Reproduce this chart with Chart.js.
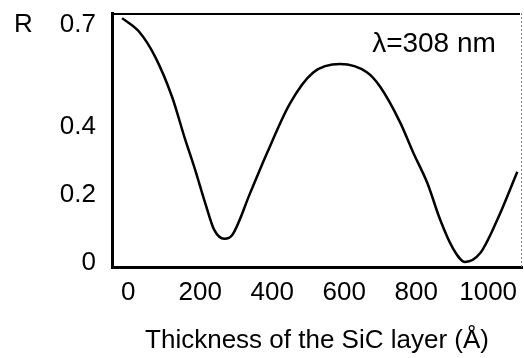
<!DOCTYPE html>
<html>
<head>
<meta charset="utf-8">
<script src="https://cdn.jsdelivr.net/npm/chart.js@4"></script>
<style>
  html, body { margin: 0; padding: 0; background: #fff; }
  #wrap { width: 524px; height: 358px; }
</style>
</head>
<body>
<div id="wrap"><canvas id="lineChart"></canvas></div>
<script>
// thickness of SiC layer (Å) and reflectivity R
const thickness = [-17, 31, 75, 122, 156, 186, 214, 239, 267, 289, 339, 386, 450, 514, 589, 664, 700, 756, 792, 831, 867, 900, 936, 978, 1025, 1081];
const reflectivity = [0.72, 0.679, 0.606, 0.488, 0.371, 0.274, 0.176, 0.097, 0.071, 0.082, 0.206, 0.324, 0.47, 0.56, 0.585, 0.56, 0.518, 0.412, 0.324, 0.235, 0.126, 0.047, 0.003, 0.029, 0.126, 0.268];
const xTicks = [0, 200, 400, 600, 800, 1000];
const yTicks = [0, 0.2, 0.4, 0.7];
const waveLabel = "λ=308 nm";

const FONT = "'Liberation Sans', Arial, sans-serif";

const framePlugin = {
  id: "frame",
  afterDraw(chart) {
    const { ctx } = chart;
    const yS = chart.scales.y, xS = chart.scales.x;
    const top = Math.round(yS.top), bottom = yS.bottom;
    const left = xS.left, right = xS.right;
    ctx.save();
    // top edge
    ctx.strokeStyle = "#000";
    ctx.lineWidth = 2;
    ctx.beginPath();
    ctx.moveTo(left - 1, top + 1);
    ctx.lineTo(right - 2, top + 1);
    ctx.stroke();
    // faint right edge
    ctx.strokeStyle = "#888";
    ctx.lineWidth = 1;
    ctx.setLineDash([2, 2]);
    ctx.beginPath();
    ctx.moveTo(right - 0.5, top);
    ctx.lineTo(right - 0.5, bottom);
    ctx.stroke();
    ctx.setLineDash([]);
    // texts
    ctx.fillStyle = "#000";
    ctx.textBaseline = "middle";
    ctx.textAlign = "left";
    ctx.font = "26px " + FONT;
    ctx.fillText("R", 14, 25);
    ctx.textAlign = "center";
    ctx.font = "28px " + FONT;
    ctx.fillText(waveLabel, 434, 44);
    ctx.restore();
  },
};

new Chart(document.getElementById("lineChart").getContext("2d"), {
  type: "line",
  data: {
    datasets: [
      {
        data: thickness.map((t, i) => ({ x: t, y: reflectivity[i] })),
        borderColor: "#000",
        borderWidth: 2.5,
        pointRadius: 0,
        cubicInterpolationMode: "monotone",
        fill: false,
      },
    ],
  },
  options: {
    responsive: true,
    maintainAspectRatio: false,
    animation: false,
    layout: { padding: { top: 13, right: 2, left: 0, bottom: 0 } },
    plugins: { legend: { display: false }, tooltip: { enabled: false } },
    scales: {
      x: {
        type: "linear",
        min: -45,
        max: 1094,
        afterBuildTicks: (s) => { s.ticks = xTicks.map((v) => ({ value: v })); },
        afterFit: (s) => { s.height = 91; s.paddingLeft = 0; s.paddingRight = 0; },
        grid: { display: false },
        border: { color: "#000", width: 3 },
        ticks: { color: "#000", font: { family: FONT, size: 26 }, padding: 2, maxRotation: 0, callback: (v) => String(v) },
        title: { display: true, text: "Thickness of the SiC layer (Å)", color: "#000", font: { family: FONT, size: 26 }, padding: { top: 10, bottom: 2 } },
      },
      y: {
        min: -0.012,
        max: 0.735,
        afterBuildTicks: (s) => { s.ticks = yTicks.map((v) => ({ value: v })); },
        afterFit: (s) => { s.width = 112; s.paddingTop = 0; s.paddingBottom = 0; },
        grid: { display: false },
        border: { color: "#000", width: 3 },
        ticks: { color: "#000", font: { family: FONT, size: 26 }, padding: 8, callback: (v) => String(v) },
      },
    },
  },
  plugins: [framePlugin],
});
</script>
</body>
</html>
